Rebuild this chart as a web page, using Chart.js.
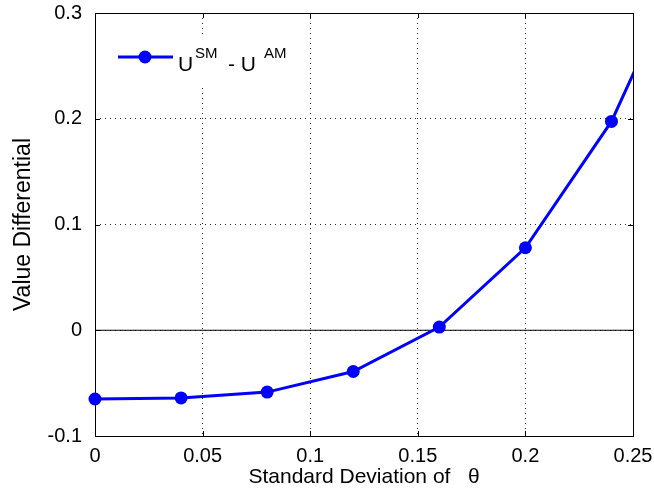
<!DOCTYPE html>
<html>
<head>
<meta charset="utf-8">
<script src="https://cdn.jsdelivr.net/npm/chart.js@4/dist/chart.umd.min.js"></script>
<style>
  html, body { margin: 0; padding: 0; background: #ffffff; }
  #wrap { width: 654px; height: 493px; position: relative; }
</style>
</head>
<body>
<div id="wrap"><canvas id="c" width="654" height="493"></canvas></div>
<script>
// ---- data ----
const sigmaValues = [0, 0.04, 0.08, 0.12, 0.16, 0.20, 0.24, 0.28];
const diffValues  = [-0.065, -0.064, -0.0585, -0.039, 0.003, 0.078, 0.1975, 0.375];
const zeroLineX   = [0, 0.25];
const zeroLineY   = [0, 0];
const xTicks      = [0, 0.05, 0.10, 0.15, 0.20, 0.25];
const xTickLabels = ['0', '0.05', '0.1', '0.15', '0.2', '0.25'];
const yTicks      = [-0.1, 0, 0.1, 0.2, 0.3];
const yTickLabels = ['-0.1', '0', '0.1', '0.2', '0.3'];
const legendParts = [
  { text: 'U',   sup: false },
  { text: 'SM',  sup: true  },
  { text: '- U', sup: false },
  { text: 'AM',  sup: true  }
];
const xTitle = 'Standard Deviation of   \u03B8';
const yTitle = 'Value Differential';

const FONT = '"Liberation Sans", Arial, Helvetica, sans-serif';
const BLUE = '#0000ff';

const boxPlugin = {
  id: 'boxPlugin',
  beforeDatasetsDraw(chart) {
    const { ctx, chartArea: a, scales } = chart;
    ctx.save();
    ctx.strokeStyle = '#000';
    ctx.lineWidth = 1;
    // inward tick marks on all four sides
    const tl = 5;
    ctx.beginPath();
    xTicks.forEach(v => {
      const px = Math.round(scales.x.getPixelForValue(v)) + 0.5;
      ctx.moveTo(px, a.bottom); ctx.lineTo(px, a.bottom - tl);
      ctx.moveTo(px, a.top);    ctx.lineTo(px, a.top + tl);
    });
    yTicks.forEach(v => {
      const py = Math.round(scales.y.getPixelForValue(v)) + 0.5;
      ctx.moveTo(a.left, py);  ctx.lineTo(a.left + tl, py);
      ctx.moveTo(a.right, py); ctx.lineTo(a.right - tl, py);
    });
    ctx.stroke();
    // axes box
    ctx.strokeRect(Math.round(a.left) + 0.5, Math.round(a.top) + 0.5,
                   Math.round(a.right - a.left), Math.round(a.bottom - a.top));
    // legend background (covers the grid)
    ctx.fillStyle = '#fff';
    ctx.fillRect(a.left + 2, a.top + 22, 205, 50);
    // legend sample
    const ly = a.top + 44;
    ctx.strokeStyle = BLUE;
    ctx.lineWidth = 3;
    ctx.beginPath();
    ctx.moveTo(a.left + 23, ly);
    ctx.lineTo(a.left + 78, ly);
    ctx.stroke();
    ctx.fillStyle = BLUE;
    ctx.beginPath();
    ctx.arc(a.left + 50, ly, 6.5, 0, Math.PI * 2);
    ctx.fill();
    // legend text with superscripts
    const xs = [83, 100, 133, 169];
    ctx.fillStyle = '#000';
    ctx.textBaseline = 'alphabetic';
    ctx.textAlign = 'left';
    legendParts.forEach((p, i) => {
      ctx.font = (p.sup ? '15px ' : '21px ') + FONT;
      ctx.fillText(p.text, a.left + xs[i], p.sup ? a.top + 45 : a.top + 58);
    });
    ctx.restore();
  }
};

new Chart(document.getElementById('c'), {
  type: 'line',
  data: {
    datasets: [
      {
        label: 'zero',
        data: zeroLineX.map((x, i) => ({ x, y: zeroLineY[i] })),
        borderColor: '#000',
        borderWidth: 1,
        pointRadius: 0,
        order: 2
      },
      {
        label: 'U^SM - U^AM',
        data: sigmaValues.map((x, i) => ({ x, y: diffValues[i] })),
        borderColor: BLUE,
        backgroundColor: BLUE,
        borderWidth: 3,
        pointRadius: 6.5,
        pointBorderWidth: 0,
        pointBackgroundColor: BLUE,
        tension: 0,
        clip: { left: 10, top: 0, right: 0, bottom: 10 },
        order: 1
      }
    ]
  },
  options: {
    responsive: false,
    animation: false,
    devicePixelRatio: 1,
    layout: { padding: { top: 13, right: 21, left: 0, bottom: 0 } },
    plugins: {
      legend: { display: false },
      tooltip: { enabled: false }
    },
    scales: {
      x: {
        type: 'linear',
        min: 0,
        max: 0.25,
        afterFit(s) { s.height = 57; s.paddingLeft = 0; s.paddingRight = 0; },
        afterBuildTicks(s) { s.ticks = xTicks.map(v => ({ value: v })); },
        grid: {
          color: 'rgba(0,0,0,0.85)',
          lineWidth: 1,
          drawTicks: false
        },
        border: { display: false, dash: [1, 4] },
        ticks: {
          padding: 8,
          color: '#000',
          font: { family: FONT, size: 20 },
          maxRotation: 0,
          autoSkip: false,
          callback: (v, i) => xTickLabels[i]
        },
        title: {
          display: true,
          text: xTitle,
          color: '#000',
          font: { family: FONT, size: 21 },
          padding: { top: 0, bottom: 3 }
        }
      },
      y: {
        type: 'linear',
        min: -0.1,
        max: 0.3,
        afterFit(s) { s.width = 95; s.paddingTop = 0; s.paddingBottom = 0; },
        afterBuildTicks(s) { s.ticks = yTicks.map(v => ({ value: v })); },
        grid: {
          color: 'rgba(0,0,0,0.85)',
          lineWidth: 1,
          drawTicks: false
        },
        border: { display: false, dash: [1, 4] },
        ticks: {
          padding: 13,
          color: '#000',
          font: { family: FONT, size: 20 },
          autoSkip: false,
          callback: (v, i) => yTickLabels[i]
        },
        title: {
          display: true,
          text: yTitle,
          color: '#000',
          font: { family: FONT, size: 23 },
          padding: { top: 10, bottom: 0 }
        }
      }
    }
  },
  plugins: [boxPlugin]
});
</script>
</body>
</html>
